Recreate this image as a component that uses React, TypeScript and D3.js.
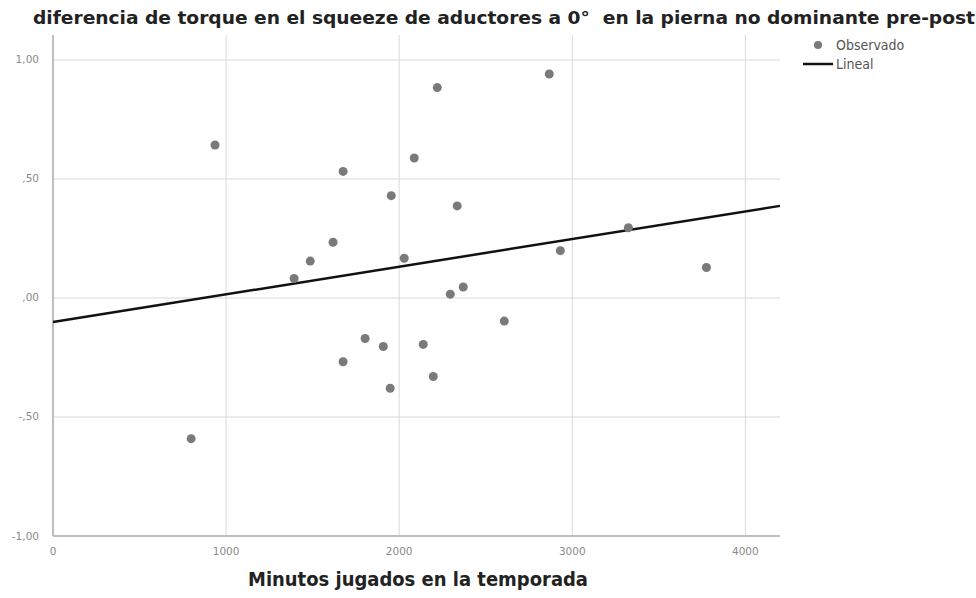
import React from "react";
import * as d3 from "d3";

const title = "diferencia de torque en el squeeze de aductores a 0°  en la pierna no dominante pre-post";
const xTitle = "Minutos jugados en la temporada";
const legendLabels = ["Observado", "Lineal"];

const minutes = [936, 2220, 2867, 2087, 1676, 1954, 2335, 1618, 1486, 2029, 1393, 3324, 2931, 3775, 2370, 2295, 2607, 1803, 1908, 2139, 1676, 1948, 2197, 798];
const diffs = [0.643, 0.884, 0.941, 0.588, 0.532, 0.430, 0.387, 0.234, 0.155, 0.167, 0.082, 0.295, 0.199, 0.128, 0.046, 0.016, -0.097, -0.170, -0.204, -0.195, -0.268, -0.379, -0.330, -0.591];

const xTicks = [0, 1000, 2000, 3000, 4000];
const yTicks = [-1, -0.5, 0, 0.5, 1];
const yTickLabels = ["-1,00", "-,50", ",00", ",50", "1,00"];

const lineIntercept = -0.101;
const lineSlope = 0.0001162;

export default function App() {
  const W = 976, H = 598;
  const left = 53, right = 780, top = 35, bottom = 536;
  const x = d3.scaleLinear().domain([0, 4200]).range([left, right]);
  const y = d3.scaleLinear().domain([-1, 1.105]).range([bottom, top]);
  const gridColor = "#d9d9d9";
  const fit = d3.line<number>().x((d) => x(d)).y((d) => y(lineIntercept + lineSlope * d));
  const condensed = "'Liberation Sans Narrow', 'DejaVu Sans Condensed', 'Open Sans', sans-serif";

  return (
    <svg width={W} height={H} style={{ position: "absolute", left: 0, top: 0, background: "#fff" }}>
      <rect width={W} height={H} fill="#fff" />
      {yTicks.map((t) => (
        <line key={"gy" + t} x1={left} x2={right} y1={y(t)} y2={y(t)} stroke={gridColor} strokeWidth={1} />
      ))}
      {xTicks.map((t) => (
        <line key={"gx" + t} x1={x(t)} x2={x(t)} y1={top} y2={bottom} stroke={gridColor} strokeWidth={1} />
      ))}
      <line x1={left} x2={left} y1={top} y2={bottom} stroke="#b0b0b0" strokeWidth={1.5} />
      <line x1={left} x2={right} y1={bottom} y2={bottom} stroke="#b0b0b0" strokeWidth={1.5} />
      {yTicks.map((t, i) => (
        <text key={"ty" + t} x={39} y={y(t) + 3.5} textAnchor="end" fontFamily="DejaVu Sans" fontSize={10.5} fill="#8a8a8a">
          {yTickLabels[i]}
        </text>
      ))}
      {xTicks.map((t) => (
        <text key={"tx" + t} x={x(t)} y={555} textAnchor="middle" fontFamily="DejaVu Sans" fontSize={10.5} fill="#8a8a8a">
          {t}
        </text>
      ))}
      <path d={fit([0, 4200]) || ""} stroke="#111" strokeWidth={2.5} fill="none" />
      {minutes.map((m, i) => (
        <circle key={"p" + i} cx={x(m)} cy={y(diffs[i])} r={4.5} fill="#7a7a7a" />
      ))}
      <text x={504} y={24} textAnchor="middle" fontFamily={condensed} fontWeight="bold" fontSize={18} fill="#222" textLength={942} lengthAdjust="spacingAndGlyphs" style={{ whiteSpace: "pre" }}>
        {title}
      </text>
      <text x={418} y={586} textAnchor="middle" fontFamily={condensed} fontWeight="bold" fontSize={19} fill="#222" textLength={340} lengthAdjust="spacingAndGlyphs">
        {xTitle}
      </text>
      <circle cx={818} cy={45} r={4} fill="#7a7a7a" />
      <text x={836} y={50} fontFamily="DejaVu Sans Condensed, DejaVu Sans" fontSize={14} fill="#555">{legendLabels[0]}</text>
      <line x1={803} x2={833} y1={64} y2={64} stroke="#111" strokeWidth={2.5} />
      <text x={836} y={69} fontFamily="DejaVu Sans Condensed, DejaVu Sans" fontSize={14} fill="#555">{legendLabels[1]}</text>
    </svg>
  );
}
